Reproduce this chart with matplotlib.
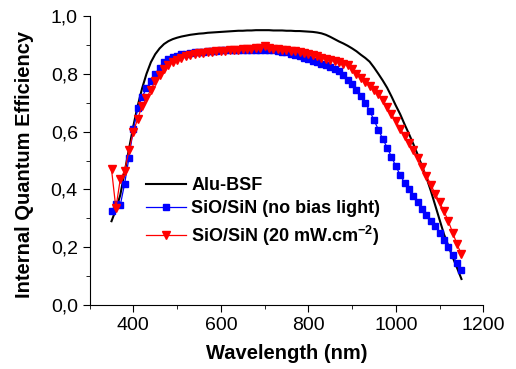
import matplotlib
matplotlib.use("Agg")
import matplotlib.pyplot as plt
from matplotlib.ticker import MultipleLocator, FuncFormatter

plt.rcParams["font.family"] = ["Liberation Sans", "DejaVu Sans"]
plt.rcParams["mathtext.fontset"] = "custom"
plt.rcParams["mathtext.bf"] = "Liberation Sans:bold"
plt.rcParams["mathtext.rm"] = "Liberation Sans"

wavelength = list(range(350, 1151, 10))

alu_bsf = [0.29, 0.33, 0.38, 0.46, 0.54, 0.62, 0.69, 0.75, 0.80, 0.84,
           0.868, 0.888, 0.903, 0.913, 0.92, 0.925, 0.929, 0.932, 0.935, 0.937,
           0.939, 0.94, 0.942, 0.943, 0.944, 0.945, 0.946, 0.947, 0.948, 0.949,
           0.949, 0.95, 0.95, 0.951, 0.951, 0.951, 0.951, 0.95, 0.95, 0.95,
           0.949, 0.949, 0.948, 0.948, 0.947, 0.946, 0.945, 0.943, 0.94, 0.935,
           0.928, 0.92, 0.912, 0.905, 0.897, 0.888, 0.878, 0.866, 0.855, 0.842,
           0.822, 0.80, 0.777, 0.752, 0.722, 0.69, 0.66, 0.625, 0.592, 0.557,
           0.52, 0.48, 0.44, 0.395, 0.345, 0.295, 0.245, 0.205, 0.165, 0.128,
           0.09]

no_bias = [0.325, 0.35, 0.345, 0.42, 0.51, 0.61, 0.68, 0.72, 0.75, 0.775,
           0.80, 0.82, 0.84, 0.85, 0.858, 0.863, 0.867, 0.87, 0.872, 0.874,
           0.876, 0.877, 0.878, 0.879, 0.88, 0.881, 0.881, 0.882, 0.882, 0.883,
           0.883, 0.884, 0.884, 0.884, 0.884, 0.883, 0.882, 0.881, 0.879, 0.877,
           0.874, 0.87, 0.866, 0.861, 0.855, 0.85, 0.845, 0.84, 0.835, 0.829,
           0.822, 0.815, 0.81, 0.795, 0.78, 0.765, 0.745, 0.723, 0.70, 0.672,
           0.64, 0.607, 0.575, 0.545, 0.513, 0.48, 0.45, 0.422, 0.40, 0.378,
           0.355, 0.333, 0.312, 0.292, 0.273, 0.25, 0.225, 0.20, 0.172, 0.145,
           0.12]

bias_20 = [0.47, 0.335, 0.435, 0.465, 0.535, 0.60, 0.645, 0.69, 0.715, 0.745,
           0.775, 0.795, 0.815, 0.83, 0.84, 0.848, 0.855, 0.86, 0.865, 0.869,
           0.871, 0.873, 0.875, 0.877, 0.878, 0.88, 0.88, 0.881, 0.882, 0.884,
           0.885, 0.886, 0.887, 0.888, 0.889, 0.895, 0.89, 0.887, 0.886, 0.884,
           0.882, 0.88, 0.878, 0.876, 0.872, 0.868, 0.864, 0.86, 0.856, 0.852,
           0.848, 0.846, 0.842, 0.835, 0.83, 0.815, 0.80, 0.785, 0.77, 0.757,
           0.745, 0.73, 0.71, 0.685, 0.66, 0.635, 0.61, 0.585, 0.56, 0.535,
           0.51, 0.478, 0.448, 0.415, 0.385, 0.355, 0.325, 0.29, 0.25, 0.21,
           0.175]

fig = plt.figure(figsize=(5.16, 3.69), dpi=100)
ax = fig.add_axes([0.1737, 0.1734, 0.763, 0.7832])

ax.plot(wavelength, alu_bsf, color="black", lw=1.5, label="Alu-BSF")
ax.plot(wavelength, no_bias, color="#0000ff", lw=0.9, marker="s", ms=4,
        label="SiO/SiN (no bias light)")
ax.plot(wavelength, bias_20, color="#ff0000", lw=0.9, marker="v", ms=5.5,
        label=r"SiO/SiN (20 mW.cm$^{\mathbf{-2}}$)")

ax.set_xlim(300, 1200)
ax.set_ylim(0, 1.0)
ax.xaxis.set_major_locator(MultipleLocator(200))
ax.xaxis.set_minor_locator(MultipleLocator(100))
ax.yaxis.set_major_locator(MultipleLocator(0.2))
ax.yaxis.set_minor_locator(MultipleLocator(0.1))
ax.yaxis.set_major_formatter(FuncFormatter(lambda v, p: f"{v:.1f}".replace(".", ",")))
ax.set_xticks([400, 600, 800, 1000, 1200])

for s in ["top", "right"]:
    ax.spines[s].set_visible(False)
ax.tick_params(which="major", direction="out", length=5, labelsize=14)
ax.tick_params(which="minor", direction="out", length=3)

ax.set_xlabel("Wavelength (nm)", fontsize=14.5, fontweight="bold")
ax.set_ylabel("Internal Quantum Efficiency", fontsize=14.5, fontweight="bold")
ax.xaxis.set_label_coords(0.5, -0.135)
ax.yaxis.set_label_coords(-0.142, 0.486)

leg = ax.legend(loc="upper left", bbox_to_anchor=(0.125, 0.468), frameon=False,
                prop={"size": 13, "weight": "bold"}, handlelength=2.2,
                labelspacing=0.35, handletextpad=0.3, numpoints=1,
                borderaxespad=0.0)

fig.savefig("out.png", dpi=100)
